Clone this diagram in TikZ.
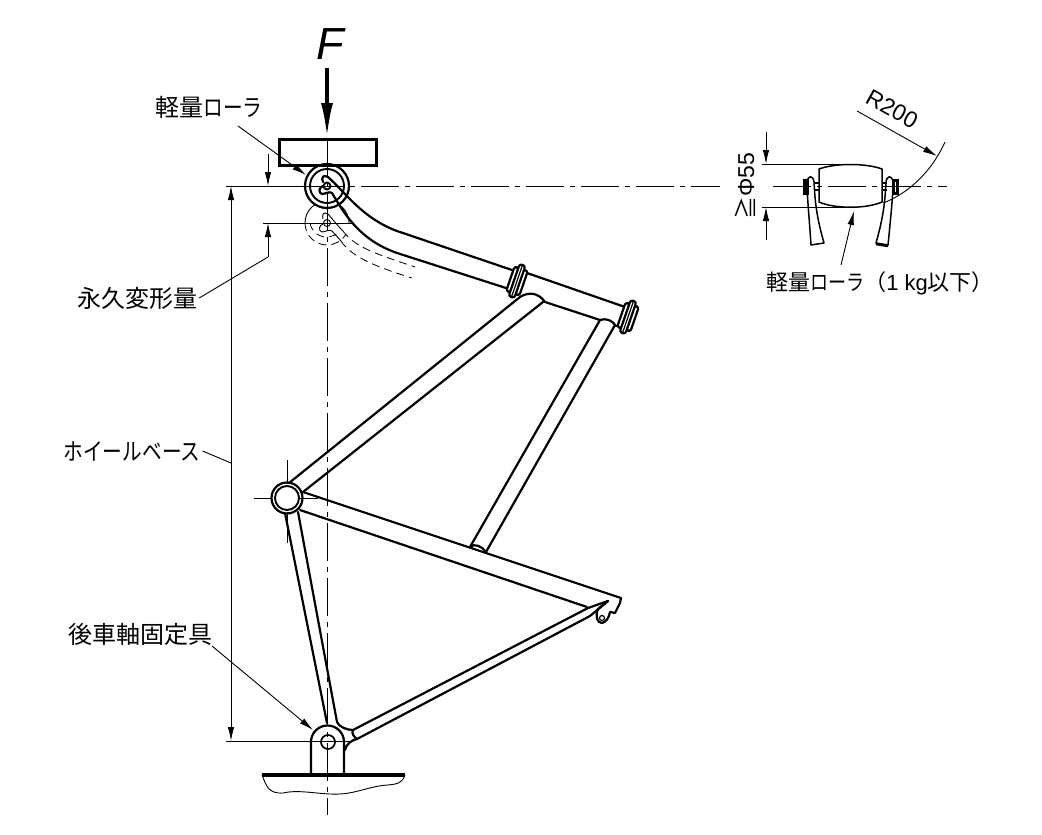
\documentclass[tikz,border=0pt]{standalone}
\usepackage{fontspec}
\setmainfont{Liberation Sans}
\newfontfamily\cjk{Noto Sans CJK JP}
\newfontfamily\kana[FakeStretch=0.82]{Noto Sans CJK JP}
\usetikzlibrary{arrows.meta}
\tikzset{
  frameline/.style={line width=2.2pt,line join=round,line cap=round},
  ringline/.style={line width=1.9pt},
  thinline/.style={line width=0.9pt},
  ghostline/.style={line width=0.8pt,dash pattern=on 8pt off 5pt},
  axisline/.style={line width=0.9pt,dash pattern=on 38pt off 6pt on 5pt off 6pt},
  dimarrow/.style={-{Latex[length=14pt,width=6.5pt]}},
  lbl/.style={inner sep=0pt,font=\fontsize{24}{24}\selectfont},
  lugring/.pic={
    \draw[frameline,fill=white,rounded corners=2.5pt] (-7,-13) rectangle (-2.5,13);
    \draw[frameline,fill=white,rounded corners=2.5pt] (2.5,-13) rectangle (7,13);
    \draw[frameline,fill=white,rounded corners=2.5pt] (-3,-17) rectangle (3,17);
    \draw[line width=1.2pt] (0,-16) -- (0,16);
  }
}
\begin{document}
\begin{tikzpicture}[x=1pt,y=-1pt]
\useasboundingbox (0,0) rectangle (1042,835);
\draw[thinline] (327,223) ++(180:22) arc[start angle=180,end angle=360,radius=22];
\draw[ghostline] (327,223) ++(180:22) arc[start angle=180,end angle=30,radius=22];
\draw[ghostline] (327,223) ++(180:17) arc[start angle=170,end angle=50,radius=17];
\draw[thinline] (328,214) .. controls (323,211) and (322,215) .. (323,219);
\draw[thinline] (332,231) .. controls (329,229) and (325,232) .. (322,232) .. controls (318,231) and (319,225) .. (323,224);
\draw[thinline] (328,214) .. controls (333,220) and (338,226) .. (343,231);
\draw[thinline] (332,231) -- (341,241);
\draw[ghostline] (343,231) .. controls (355,248) and (380,255) .. (415,267);
\draw[ghostline] (341,241) .. controls (352,258) and (380,268) .. (412,278);
\draw[thinline,fill=white] (327,223) circle (3.5);
\draw[frameline,fill=white] (327,186) circle (22);
\draw[ringline] (327,186) circle (17);
\draw[frameline] (328,177) .. controls (345,192) and (362,218) .. (397,231) -- (512,270);
\draw[frameline] (332,193) .. controls (345,215) and (360,240) .. (397,253) -- (506,288);
\draw[frameline] (527,273) -- (625,307);
\draw[frameline] (545,302) -- (600,320);
\draw[frameline] (520,297) .. controls (528,292) and (538,292) .. (545,302);
\draw[frameline] (600,320) .. controls (606,318) and (612,320) .. (616,326);
\pic[rotate=-19] at (517,281) {lugring};
\pic[rotate=-19] at (628,317) {lugring};
\draw[frameline] (520,297) -- (289,483);
\draw[frameline] (543,302) -- (303,492);
\draw[frameline] (600,320) -- (470,547);
\draw[frameline] (615,325) -- (486,552);
\draw[frameline] (470,547) .. controls (474,543) and (482,546) .. (486,552);
\draw[frameline] (303,492) -- (621,598) -- (620,603) -- (615,613) -- (610,612) .. controls (609,618) and (606,622) .. (602,623) .. controls (597,623) and (595,616) .. (598,609) -- (608,601);
\draw[line width=1.2pt] (602,618) circle (2.5);
\draw[frameline] (300,510) -- (587,607);
\draw[frameline] (608,601) -- (588,608) -- (353,730);
\draw[frameline] (608,601) -- (590,616) -- (357,739);
\draw[frameline] (285,513) -- (327,723);
\draw[frameline] (298,512) -- (337,722) .. controls (339,727) and (347,730) .. (353,730) .. controls (351,733) and (354,737) .. (357,739) .. controls (352,740) and (346,744) .. (345,750);
\draw[frameline,fill=white] (287,498) circle (15.5);
\draw[ringline] (287,498) circle (12);
\draw[frameline] (311,775) -- (311,742) arc[start angle=180,end angle=360,radius=16.5] -- (344,775);
\draw[line width=1.7pt,fill=white] (328,742) circle (7);
\draw[line width=3.5pt] (262,775) -- (405,775);
\draw[thinline] (262,775) .. controls (266,785) and (268,794) .. (283,793) .. controls (300,789) and (320,795) .. (340,794) .. controls (358,793) and (370,786) .. (388,785) .. controls (398,784) and (402,783) .. (405,775);
\draw[line width=3pt] (279,139) rectangle (376,165);
\draw[frameline] (332,193) .. controls (330,191) and (325,194) .. (322,194) .. controls (318,193) and (319,187) .. (323,186);
\draw[frameline] (328,177) .. controls (323,174) and (321,178) .. (323,182);
\draw[ringline,fill=white] (327,186) circle (3.5);
\draw[axisline] (327,138) -- (327,815);
\draw[axisline] (306,186) -- (720,186);
\draw[axisline] (773,186) -- (947,186);
\draw[thinline] (226,186) -- (306,186);
\draw[thinline] (254,498) -- (272,498);
\draw[thinline] (300,498) -- (318,498);
\draw[thinline] (287,460) -- (287,484);
\draw[thinline] (287,512) -- (287,543);
\draw[thinline] (226,741) -- (352,741);
\draw[thinline] (263,223) -- (353,223);
\node[inner sep=0pt,font=\fontsize{45}{45}\selectfont\itshape] (force) at (330,44) {F};
\draw[line width=4pt,-{Latex[length=36pt,width=12pt]}] ([xshift=-3pt,yshift=-8pt]force.south) -- (327,139);
\node[lbl] (rollertop) at (209,107) {\cjk 軽量\kana ローラ};
\coordinate (rollertip) at (306,175);
\draw[thinline,dimarrow] (238,126) -- (rollertip);
\node[lbl] (setlabel) at (137,298) {\cjk 永久変形量};
\coordinate (setdim) at (268,257);
\draw[thinline] ([xshift=2pt]setlabel.east) -- (setdim);
\draw[thinline,dimarrow] (268,154) -- (268,186);
\draw[thinline,dimarrow] (setdim) -- (268,223);
\node[lbl] (baselabel) at (132,451) {\kana ホイールベース};
\coordinate (basedim) at (231,463);
\draw[thinline] ([xshift=2pt]baselabel.east) -- (basedim);
\draw[thinline,dimarrow] (basedim) -- (231,186);
\draw[thinline,dimarrow] (basedim) -- (231,741);
\node[lbl] (axlelabel) at (140,634) {\cjk 後車軸固定具};
\coordinate (axletip) at (313,730);
\draw[thinline,dimarrow] (212,646) -- (axletip);
\draw[frameline,line width=1.5pt] (819,169) .. controls (835,163) and (866,163) .. (882,169) -- (882,202) .. controls (866,209) and (835,209) .. (819,202) -- cycle;
\draw[frameline,line width=1.5pt] (811,245) .. controls (809,215) and (807,195) .. (807,182) .. controls (808,175) and (813,175) .. (814,182) .. controls (815,200) and (816,215) .. (824,243) -- cycle;
\draw[frameline,line width=1.5pt] (876,243) .. controls (884,215) and (885,200) .. (886,182) .. controls (887,175) and (892,175) .. (893,182) .. controls (893,195) and (891,215) .. (888,245) -- cycle;
\draw[line width=2.5pt] (876,244) -- (888,246);
\draw[line width=3pt] (804,180) rectangle (807,193);
\draw[line width=3pt] (893,180) rectangle (897,193);
\draw[line width=1.2pt] (814,183) -- (819,183) (814,190) -- (819,190);
\draw[line width=1.2pt] (882,183) -- (887,183) (882,190) -- (887,190);
\draw[thinline] (762,164) -- (850,164);
\draw[thinline] (762,207) -- (850,207);
\draw[thinline,dimarrow] (766,132) -- (766,164);
\draw[thinline,dimarrow] (766,240) -- (766,207);
\node[inner sep=0pt,rotate=90,font=\fontsize{23}{23}\selectfont] (dialabel) at (745,186) {{\cjk ≧}Φ55};
\draw[thinline] (945,142) .. controls (930,175) and (905,195) .. (883,203);
\node[inner sep=0pt,rotate=-29,font=\fontsize{23}{23}\selectfont] (radlabel) at (892,109) {R200};
\coordinate (radtip) at (937,156);
\draw[thinline,dimarrow] (857,111) -- (radtip);
\node[lbl] (rollerside) at (880,283) {\fontsize{22}{22}\selectfont{\cjk 軽量}{\kana ローラ}{\cjk （}1 kg{\cjk 以下）}};
\coordinate (sidetip) at (854,211);
\draw[thinline,dimarrow] (841,265) -- (sidetip);
\end{tikzpicture}
\end{document}
